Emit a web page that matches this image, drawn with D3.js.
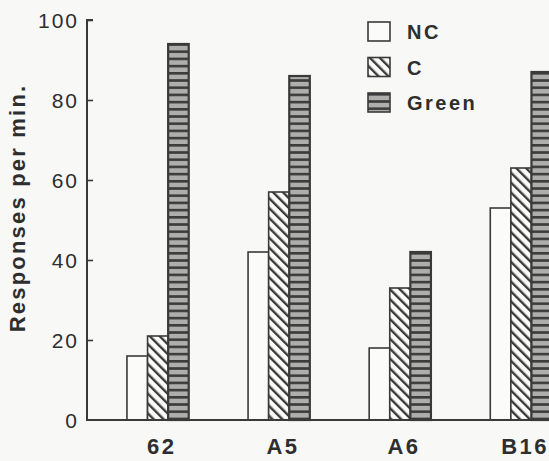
<!DOCTYPE html>
<html>
<head>
<meta charset="utf-8">
<script src="https://cdn.jsdelivr.net/npm/d3@7"></script>
<style>
  html, body { margin: 0; padding: 0; background: #f8f8f6; }
  svg { display: block; }
  text { font-family: "Liberation Sans", Arial, sans-serif; fill: #2e2e2e; }
</style>
</head>
<body>
<svg id="chart" width="549" height="461"></svg>
<script>
// Response rates per strain under three conditions
const categories = ["62", "A5", "A6", "B16"];
const seriesNames = ["NC", "C", "Green"];
const ncValues = [16, 42, 18, 53];
const cValues = [21, 57, 33, 63];
const greenValues = [94, 86, 42, 87];
const yTicks = [0, 20, 40, 60, 80, 100];

const series = [
  { name: "NC", values: ncValues, fill: "#fbfbf9" },
  { name: "C", values: cValues, fill: "url(#hatch)" },
  { name: "Green", values: greenValues, fill: "url(#stripes)" }
];

const svg = d3.select("#chart");
const ink = "#3a3a3a";

// Fill patterns
const defs = svg.append("defs");
const hatch = defs.append("pattern")
  .attr("id", "hatch").attr("patternUnits", "userSpaceOnUse")
  .attr("width", 7).attr("height", 7)
  .attr("patternTransform", "rotate(-45)");
hatch.append("rect").attr("width", 7).attr("height", 7).attr("fill", "#fbfbf9");
hatch.append("rect").attr("x", 0).attr("y", 0).attr("width", 2.4).attr("height", 7).attr("fill", ink);

const stripes = defs.append("pattern")
  .attr("id", "stripes").attr("patternUnits", "userSpaceOnUse")
  .attr("width", 8).attr("height", 7.2);
stripes.append("rect").attr("width", 8).attr("height", 7.2).attr("fill", "#aeaeac");
stripes.append("rect").attr("y", 0).attr("width", 8).attr("height", 2.6).attr("fill", "#3c3c3c");

// Scales
const y = d3.scaleLinear().domain([0, 100]).range([420, 20]);
const x = d3.scaleBand().domain(categories).range([87, 592])
  .paddingInner(0.49).paddingOuter(0.33);
const xs = d3.scaleBand().domain(seriesNames).range([0, x.bandwidth()]);

// Bars
series.forEach(s => {
  svg.append("g").selectAll("rect")
    .data(categories.map((c, i) => ({ c, v: s.values[i] })))
    .join("rect")
    .attr("x", d => x(d.c) + xs(s.name))
    .attr("y", d => y(d.v))
    .attr("width", xs.bandwidth())
    .attr("height", d => y(0) - y(d.v))
    .attr("fill", s.fill)
    .attr("stroke", ink)
    .attr("stroke-width", s.name === "Green" ? 2.2 : 1.6);
});

// Y axis
const yAxis = svg.append("g")
  .attr("transform", "translate(87,0)")
  .call(d3.axisRight(y).tickValues(yTicks).tickSize(6).tickFormat(""));
yAxis.select(".domain").attr("stroke", ink).attr("stroke-width", 2)
  .attr("d", `M6,${y(100)}H0V${y(0)}`);
yAxis.selectAll(".tick line").attr("stroke", ink).attr("stroke-width", 1.6);
yAxis.selectAll(".tick").filter(d => d === 0).select("line").remove();

svg.append("g").selectAll("text")
  .data(yTicks)
  .join("text")
  .attr("x", 79)
  .attr("y", d => y(d) + 7.5)
  .attr("text-anchor", "end")
  .attr("font-size", 21)
  .attr("letter-spacing", 2)
  .text(d => d);

// X baseline
svg.append("line")
  .attr("x1", 86).attr("x2", 549)
  .attr("y1", y(0)).attr("y2", y(0))
  .attr("stroke", ink).attr("stroke-width", 2);

// Category labels
svg.append("g").selectAll("text")
  .data(categories)
  .join("text")
  .attr("x", d => x(d) + x.bandwidth() / 2 + 4)
  .attr("y", 454)
  .attr("text-anchor", "middle")
  .attr("font-size", 22)
  .attr("font-weight", "bold")
  .attr("letter-spacing", 2.5)
  .text(d => d);

// Y axis title
svg.append("text")
  .attr("transform", "translate(25,208) rotate(-90)")
  .attr("text-anchor", "middle")
  .attr("font-size", 22)
  .attr("font-weight", "bold")
  .attr("letter-spacing", 2.2)
  .text("Responses per min.");

// Legend
const legend = svg.append("g").attr("transform", "translate(368,22)");
series.forEach((s, i) => {
  const g = legend.append("g").attr("transform", `translate(0,${i * 35.5})`);
  g.append("rect")
    .attr("width", 22).attr("height", 19)
    .attr("fill", s.fill).attr("stroke", ink).attr("stroke-width", 1.6);
  g.append("text")
    .attr("x", 39).attr("y", 17)
    .attr("font-size", 20)
    .attr("font-weight", "bold")
    .attr("letter-spacing", 2.5)
    .text(s.name);
});
</script>
</body>
</html>
